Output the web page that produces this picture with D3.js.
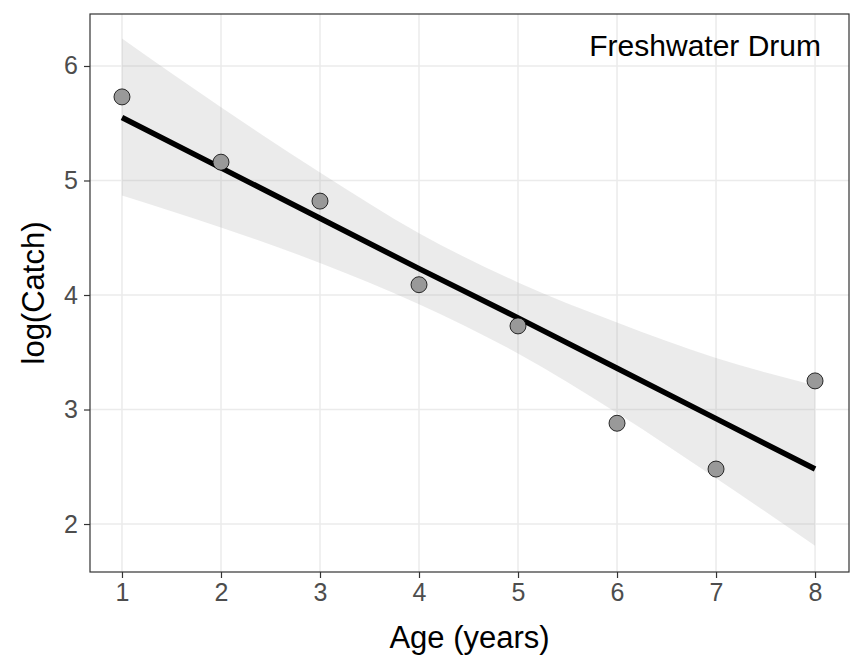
<!DOCTYPE html>
<html><head><meta charset="utf-8">
<script src="https://cdn.jsdelivr.net/npm/d3@7"></script>
<style>body{margin:0;background:#fff}</style>
</head><body><div id="chart"></div>
<script>
const ages = [1, 2, 3, 4, 5, 6, 7, 8];
const logCatch = [5.73, 5.16, 4.82, 4.09, 3.73, 2.88, 2.48, 3.25];
const fitted = [5.55, 5.11, 4.67, 4.23, 3.80, 3.36, 2.92, 2.48];
const bandUpper = [6.24, 5.64, 5.07, 4.54, 4.11, 3.76, 3.45, 3.21];
const bandLower = [4.87, 4.59, 4.28, 3.92, 3.49, 2.97, 2.40, 1.81];
const xTicks = [1, 2, 3, 4, 5, 6, 7, 8];
const yTicks = [2, 3, 4, 5, 6];

const svgWidth = 864, svgHeight = 672;
const margin = {top: 14, right: 15, bottom: 100, left: 90};
const width = svgWidth - margin.left - margin.right;
const height = svgHeight - margin.top - margin.bottom;
const font = "Arial, 'Liberation Sans', sans-serif";

const svg = d3.select("#chart").append("svg")
  .attr("width", svgWidth).attr("height", svgHeight)
  .style("font-family", font);
const g = svg.append("g").attr("transform", `translate(${margin.left},${margin.top})`);

const x = d3.scaleLinear().domain([0.677, 8.343]).range([0, width]);
const y = d3.scaleLinear().domain([1.581, 6.454]).range([height, 0]);

// grid
g.selectAll(".gx").data(xTicks).enter().append("line")
  .attr("x1", d => x(d)).attr("x2", d => x(d)).attr("y1", 0).attr("y2", height)
  .attr("stroke", "#ebebeb").attr("stroke-width", 1.5);
g.selectAll(".gy").data(yTicks).enter().append("line")
  .attr("y1", d => y(d)).attr("y2", d => y(d)).attr("x1", 0).attr("x2", width)
  .attr("stroke", "#ebebeb").attr("stroke-width", 1.5);

// confidence band
const band = ages.map((a, i) => ({a, lo: bandLower[i], hi: bandUpper[i]}));
g.append("path").datum(band)
  .attr("fill", "#999").attr("fill-opacity", 0.2)
  .attr("d", d3.area().curve(d3.curveMonotoneX)
    .x(d => x(d.a)).y0(d => y(d.lo)).y1(d => y(d.hi)));

// regression line
g.append("path").datum(ages.map((a, i) => [a, fitted[i]]))
  .attr("fill", "none").attr("stroke", "#000").attr("stroke-width", 5.5)
  .attr("d", d3.line().x(d => x(d[0])).y(d => y(d[1])));

// points
g.selectAll(".pt").data(ages.map((a, i) => [a, logCatch[i]])).enter().append("circle")
  .attr("cx", d => x(d[0])).attr("cy", d => y(d[1])).attr("r", 8)
  .attr("fill", "#999").attr("stroke", "#000").attr("stroke-width", 0.8);

// axes
const xAxis = g.append("g").attr("transform", `translate(0,${height})`)
  .call(d3.axisBottom(x).tickValues(xTicks).tickFormat(d3.format("d")).tickSize(6).tickPadding(5));
const yAxis = g.append("g")
  .call(d3.axisLeft(y).tickValues(yTicks).tickFormat(d3.format("d")).tickSize(6).tickPadding(6));
[xAxis, yAxis].forEach(a => {
  a.attr("font-family", font).attr("font-size", 25);
  a.select(".domain").remove();
  a.selectAll("line").attr("stroke", "#333").attr("stroke-width", 1.2);
  a.selectAll("text").attr("fill", "#4d4d4d");
});

// panel border
g.append("rect").attr("width", width).attr("height", height)
  .attr("fill", "none").attr("stroke", "#333").attr("stroke-width", 1.2);

// labels
svg.append("text").attr("x", margin.left + width / 2).attr("y", 648)
  .attr("text-anchor", "middle").attr("font-size", 31).text("Age (years)");
svg.append("text").attr("transform", `translate(44,${margin.top + height / 2}) rotate(-90)`)
  .attr("text-anchor", "middle").attr("font-size", 31).text("log(Catch)");
g.append("text").attr("x", width - 28).attr("y", 42)
  .attr("text-anchor", "end").attr("font-size", 30).text("Freshwater Drum");
</script></body></html>
